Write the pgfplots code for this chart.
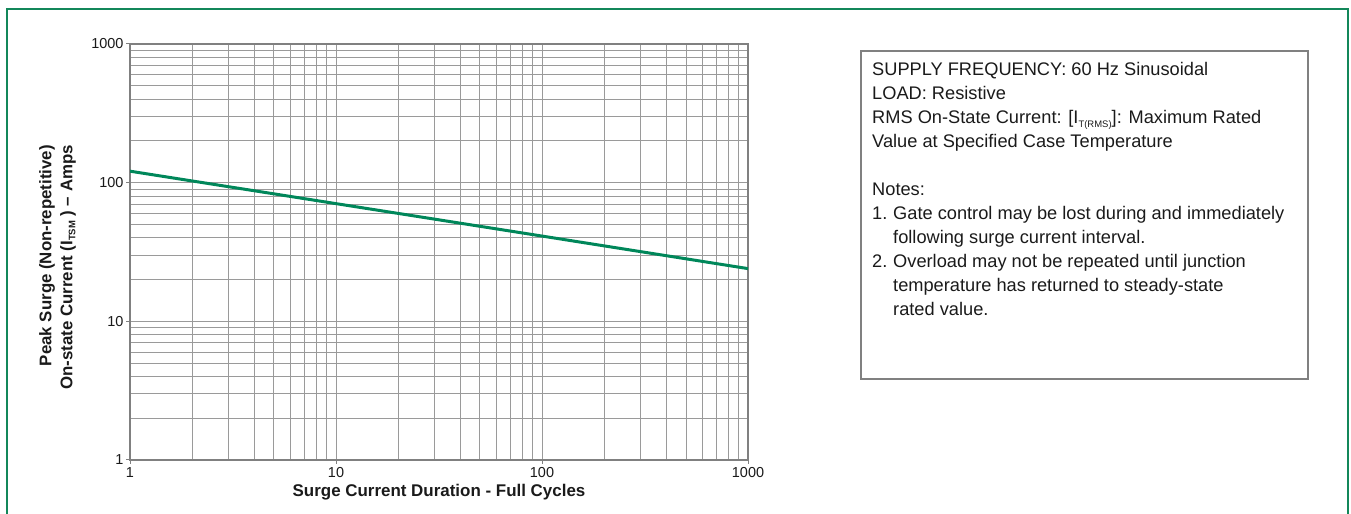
\documentclass[border=0pt]{standalone}
\usepackage{pgfplots}
\pgfplotsset{compat=1.18}
\usepackage{fontspec}
\setmainfont{Liberation Sans}
\definecolor{frgreen}{HTML}{13875A}
\definecolor{lngreen}{HTML}{00875A}
\definecolor{gridgray}{HTML}{9A9A9A}
\definecolor{axgray}{HTML}{808080}
\definecolor{txt}{HTML}{1A1A1A}
\begin{document}
\begin{tikzpicture}[x=1bp,y=1bp]
\path[use as bounding box] (0,0) rectangle (1351,514);
\draw[frgreen, line width=1.8bp] (7.3,-5) -- (7.3,504.7) -- (1348,504.7) -- (1348,-5);
\begin{axis}[
  at={(130bp,54bp)}, anchor=south west, scale only axis,
  width=618bp, height=416bp,
  xmode=log, ymode=log,
  xmin=1, xmax=1000, ymin=1, ymax=1000,
  xtick={1,10,100,1000}, xticklabels={1,10,100,1000},
  ytick={1,10,100,1000}, yticklabels={1,10,100,1000},
  minor xtick={2,3,4,5,6,7,8,9,20,30,40,50,60,70,80,90,200,300,400,500,600,700,800,900},
  minor ytick={2,3,4,5,6,7,8,9,20,30,40,50,60,70,80,90,200,300,400,500,600,700,800,900},
  grid=both,
  major grid style={gridgray, line width=1bp},
  minor grid style={gridgray, line width=1bp},
  axis line style={axgray, line width=1.6bp},
  tick align=outside, xtick pos=left, ytick pos=left,
  major tick length=4bp, minor tick length=0pt,
  tick style={axgray, line width=1bp},
  tick label style={font=\fontsize{14.5}{15}\selectfont, text=txt},
  /pgf/number format/assume math mode=true,
  xticklabel style={yshift=0bp},
  yticklabel style={xshift=1bp},
]
\addplot[lngreen, line width=3bp] coordinates {(1,121) (10,70.6) (100,41.2) (1000,24)};
\end{axis}
\node[anchor=base, font=\bfseries\fontsize{17}{20}\selectfont, text=txt] at (439,17) {Surge Current Duration - Full Cycles};
\node[rotate=90, anchor=north east, align=right, inner sep=0pt, font=\bfseries\fontsize{16.9}{21}\selectfont, text=txt] at (39,369)
  {Peak Surge (Non-repetitive)\\On-state Current (I\raisebox{-3bp}{\fontsize{9.5}{10}\selectfont TSM} ) -- Amps};
\draw[axgray, line width=1.5bp] (861,135) rectangle (1308,463);
\begin{scope}[every node/.style={anchor=base west, inner sep=0pt, font=\fontsize{18.3}{20}\selectfont, text=txt}]
\node at (872,438) {SUPPLY FREQUENCY: 60 Hz Sinusoidal};
\node at (872,414) {LOAD: Resistive};
\node at (872,390) {RMS On-State Current: [I\raisebox{-3.5bp}{\fontsize{9.5}{10}\selectfont T(RMS)}]: Maximum Rated};
\node at (872,366) {Value at Specified Case Temperature};
\node at (872,318) {Notes:};
\node at (872,294) {1.};
\node at (893,294) {Gate control may be lost during and immediately};
\node at (893,270) {following surge current interval.};
\node at (872,246) {2.};
\node at (893,246) {Overload may not be repeated until junction};
\node at (893,222) {temperature has returned to steady-state};
\node at (893,198) {rated value.};
\end{scope}
\end{tikzpicture}
\end{document}
